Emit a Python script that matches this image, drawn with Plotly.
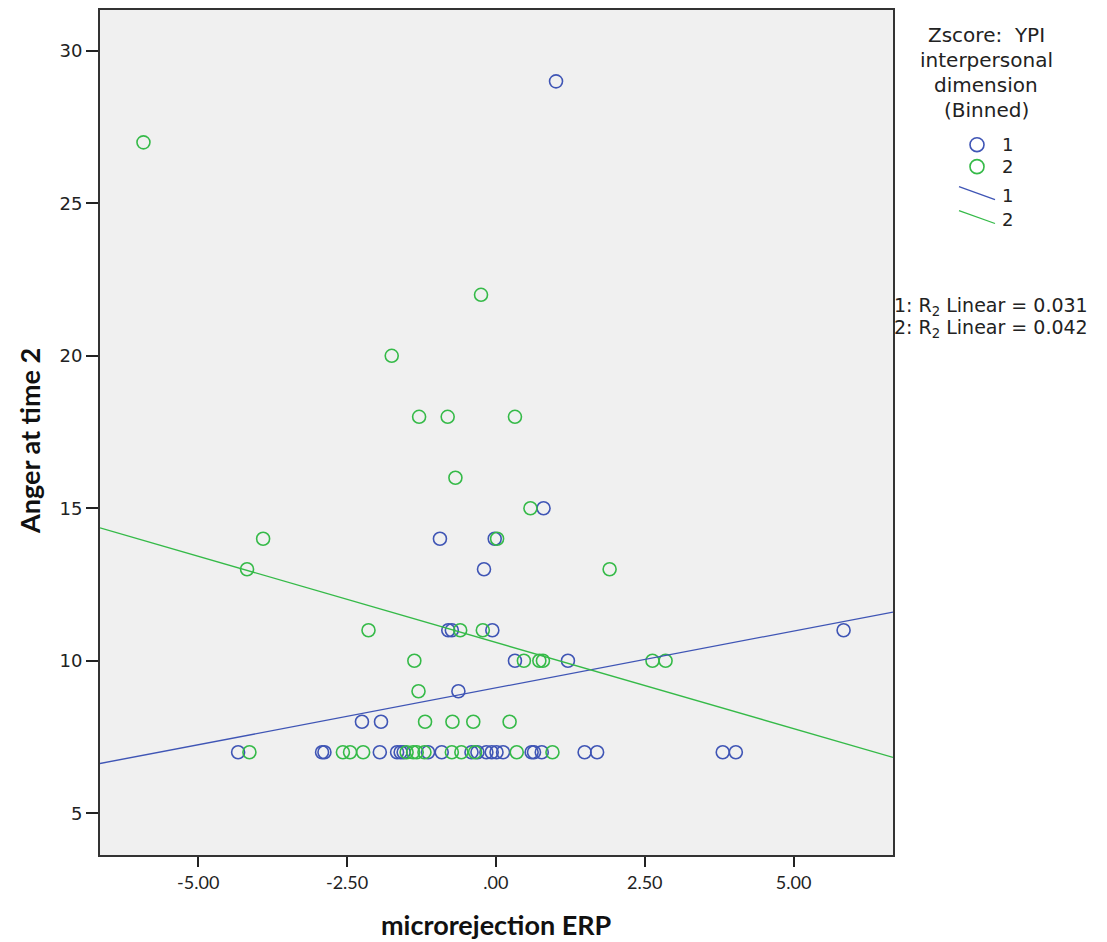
import plotly.graph_objects as go

# ---- data ----
blue_x = [1.01, -0.94, -0.02, 0.80, -0.20, -0.80, -0.74, -0.06, 0.32, 1.21, -0.63,
          -2.25, -1.93, 5.84,
          -4.33, -2.92, -2.88, -1.95, -1.66, -1.60, -1.55, -1.14, -0.91, -0.41, -0.31,
          -0.16, -0.07, 0.01, 0.12, 0.60, 0.64, 0.77, 1.49, 1.70, 3.81, 4.03]
blue_y = [29, 14, 14, 15, 13, 11, 11, 11, 10, 10, 9,
          8, 8, 11,
          7, 7, 7, 7, 7, 7, 7, 7, 7, 7, 7,
          7, 7, 7, 7, 7, 7, 7, 7, 7, 7, 7]

green_x = [-5.92, -0.25, -1.75, -1.29, -0.81, 0.32, -0.68, 0.58, 0.02, -3.91, -4.18, 1.91,
           -2.14, -0.60, -0.22, -1.37, 0.47, 0.73, 0.79, 2.63, 2.85, -1.30,
           -1.19, -0.73, -0.38, 0.23,
           -4.14, -2.57, -2.45, -2.23, -1.50, -1.39, -1.33, -1.20, -0.74, -0.58, -0.35, 0.35, 0.95]
green_y = [27, 22, 20, 18, 18, 18, 16, 15, 14, 14, 13, 13,
           11, 11, 11, 10, 10, 10, 10, 10, 10, 9,
           8, 8, 8, 8,
           7, 7, 7, 7, 7, 7, 7, 7, 7, 7, 7, 7, 7]

# fit lines (intercept, slope)
fit_blue = (9.11, 0.373)
fit_green = (10.60, -0.565)

x_range = [-6.65, 6.67]
y_range = [3.63, 31.34]

x_ticks = [-5.0, -2.5, 0.0, 2.5, 5.0]
x_ticklabels = ["-5.00", "-2.50", ".00", "2.50", "5.00"]
y_ticks = [5, 10, 15, 20, 25, 30]

legend_title = ["Zscore:  YPI", "interpersonal", "dimension", "(Binned)"]
group_labels = ["1", "2"]
r2_labels = ["1: R<sub>2</sub> Linear = 0.031", "2: R<sub>2</sub> Linear = 0.042"]

BLUE = "#3F55B5"
GREEN = "#35BA48"

fig = go.Figure()

for xs, ys, col in [(blue_x, blue_y, BLUE), (green_x, green_y, GREEN)]:
    fig.add_trace(go.Scatter(
        x=xs, y=ys, mode="markers",
        marker=dict(symbol="circle-open", size=13, color=col, line=dict(width=1.6, color=col)),
        showlegend=False, hoverinfo="skip"))

for (a, b), col in [(fit_blue, BLUE), (fit_green, GREEN)]:
    fig.add_trace(go.Scatter(
        x=x_range, y=[a + b * x_range[0], a + b * x_range[1]], mode="lines",
        line=dict(color=col, width=1.3), showlegend=False, hoverinfo="skip"))

# manual legend (paper coordinates relative to the plot area)
W, H = 1107, 942
L, R, T, B = 100, 214, 8, 87
pw, ph = W - L - R, H - T - B


def px_to_paper(xp, yp):
    return (xp - L) / pw, 1 - (yp - T) / ph


annotations = []
title_font = dict(family="DejaVu Sans", size=20, color="#222")
for i, line in enumerate(legend_title):
    x, y = px_to_paper(986, 33 + i * 25)
    annotations.append(dict(x=x, y=y, xref="paper", yref="paper", text=line, showarrow=False,
                            xanchor="center", yanchor="middle", font=title_font))

item_font = dict(family="DejaVu Sans", size=18, color="#222")
for i, (lab, col) in enumerate(zip(group_labels, [BLUE, GREEN])):
    yc = 143 + i * 22
    fig.add_shape(type="circle", xref="paper", yref="paper",
                  x0=px_to_paper(970, 0)[0], x1=px_to_paper(984, 0)[0],
                  y0=px_to_paper(0, yc + 7)[1], y1=px_to_paper(0, yc - 7)[1],
                  line=dict(color=col, width=1.6))
    tx, ty = px_to_paper(1000, yc)
    annotations.append(dict(x=tx, y=ty, xref="paper", yref="paper", text=lab, showarrow=False,
                            xanchor="left", yanchor="middle", font=item_font))
for i, (lab, col) in enumerate(zip(group_labels, [BLUE, GREEN])):
    y0 = 185 + i * 24
    x0p, y0p = px_to_paper(959, y0)
    x1p, y1p = px_to_paper(995, y0 + 13)
    fig.add_shape(type="line", xref="paper", yref="paper", x0=x0p, y0=y0p, x1=x1p, y1=y1p,
                  line=dict(color=col, width=1.3))
    tx, ty = px_to_paper(1000, y0 + 9)
    annotations.append(dict(x=tx, y=ty, xref="paper", yref="paper", text=lab, showarrow=False,
                            xanchor="left", yanchor="middle", font=item_font))

r2_font = dict(family="DejaVu Sans", size=19, color="#222")
for i, lab in enumerate(r2_labels):
    tx, ty = px_to_paper(892, 305 + i * 22)
    annotations.append(dict(x=tx, y=ty, xref="paper", yref="paper", text=lab, showarrow=False,
                            xanchor="left", yanchor="middle", font=r2_font))

# axis titles
annotations.append(dict(x=0.5, y=0, xref="paper", yref="paper", text="<b>microrejection ERP</b>",
                        showarrow=False, xanchor="center", yanchor="middle", yshift=-69,
                        font=dict(family="Lato", size=27, color="#111")))
annotations.append(dict(x=0, y=0.49, xref="paper", yref="paper", text="<b>Anger at time 2</b>",
                        showarrow=False, xanchor="center", yanchor="middle", xshift=-70,
                        textangle=-90,
                        font=dict(family="Lato", size=27, color="#111")))

fig.update_layout(
    width=W, height=H,
    margin=dict(l=L, r=R, t=T, b=B),
    paper_bgcolor="white", plot_bgcolor="#F0F0F0",
    annotations=annotations,
    showlegend=False,
)
fig.update_xaxes(range=x_range, tickvals=x_ticks, ticktext=x_ticklabels,
                 showgrid=False, zeroline=False, showline=True, mirror=True,
                 linecolor="#333", linewidth=2, ticks="outside", ticklen=10, tickwidth=1.5,
                 tickcolor="#222",
                 tickfont=dict(family="Lato", size=18, color="#222"))
fig.update_yaxes(range=y_range, tickvals=y_ticks,
                 showgrid=False, zeroline=False, showline=True, mirror=True,
                 linecolor="#333", linewidth=2, ticks="outside", ticklen=12, tickwidth=1.5,
                 tickcolor="#222",
                 tickfont=dict(family="DejaVu Sans", size=18, color="#222"))

fig.write_html("out.html")
